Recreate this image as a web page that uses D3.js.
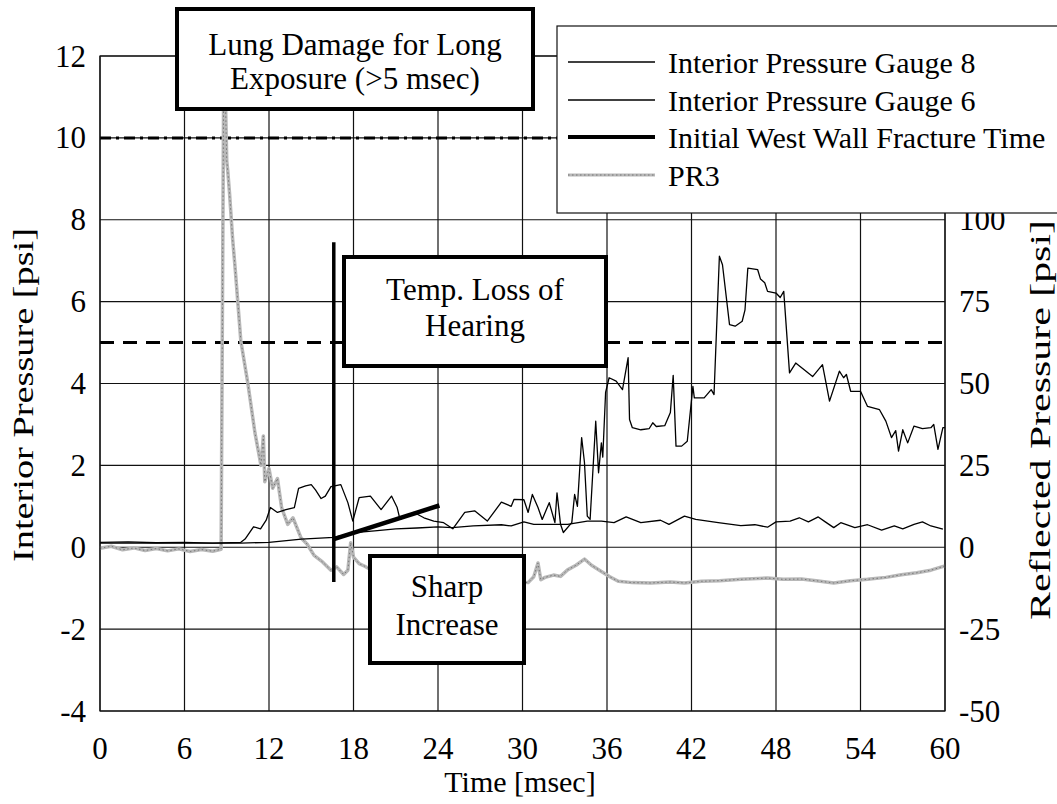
<!DOCTYPE html>
<html>
<head>
<meta charset="utf-8">
<script src="https://cdn.jsdelivr.net/npm/d3@7"></script>
<style>
  html, body { margin: 0; padding: 0; background: #fff; }
  svg { display: block; font-family: "Liberation Serif", "Times New Roman", serif; }
</style>
</head>
<body>
<div id="chart"></div>
<script>
// Time ticks [msec] and pressure ticks
const timeTicks = [0, 6, 12, 18, 24, 30, 36, 42, 48, 54, 60];
const leftTicks = [-4, -2, 0, 2, 4, 6, 8, 10, 12];
const rightTicks = [-50, -25, 0, 25, 50, 75, 100];

// Interior Pressure Gauge 8 [time, psi]
const gauge8 = [
  [0, 0.12], [2, 0.13], [4, 0.11], [6, 0.12], [8, 0.1], [10, 0.12], [10.3, 0.2], [10.9, 0.5], [11.4, 0.45],
  [11.8, 0.66], [12.1, 0.97], [12.6, 0.85], [13.2, 0.92], [13.8, 0.97], [14.1, 1.44], [14.6, 1.5], [15.0, 1.53],
  [15.3, 1.4], [15.7, 1.19], [16.0, 1.25], [16.4, 1.48], [17.1, 1.53], [17.6, 1.09], [17.95, 0.64], [18.4, 1.21],
  [19.2, 1.25], [19.96, 0.92], [20.7, 1.25], [21.1, 0.97], [21.3, 0.68], [22.3, 0.85], [23.0, 0.72], [23.7, 0.64],
  [24.4, 0.6], [25.05, 0.45], [25.9, 0.85], [26.6, 0.89], [27.5, 0.64], [28.5, 1.1], [29.2, 1.0], [29.4, 1.17],
  [30.1, 1.16], [30.4, 0.85], [30.7, 1.29], [31.1, 0.97], [31.4, 0.68], [31.9, 1.09], [32.3, 0.6], [32.45, 1.33],
  [32.7, 0.56], [32.9, 0.36], [33.5, 0.6], [33.7, 1.29], [33.9, 1.0], [34.2, 2.68], [34.4, 2.07], [34.6, 0.76],
  [34.8, 0.68], [35.2, 3.08], [35.4, 1.82], [35.6, 2.55], [35.7, 2.2], [35.9, 3.78], [36.15, 4.14], [36.65, 4.06],
  [37.1, 3.85], [37.5, 4.63], [37.6, 3.12], [37.8, 2.92], [38.4, 2.87], [39.0, 2.9], [39.25, 3.04], [39.5, 2.95],
  [40.1, 2.97], [40.5, 3.29], [40.7, 4.2], [40.9, 2.47], [41.3, 2.47], [41.7, 2.59], [42.1, 3.93], [42.2, 3.65],
  [42.9, 3.65], [43.4, 3.85], [43.6, 3.73], [43.98, 7.11], [44.2, 6.9], [44.7, 5.44], [45.1, 5.4], [45.6, 5.52],
  [45.8, 5.8], [46.0, 6.82], [46.7, 6.78], [46.9, 6.55], [47.2, 6.46], [47.4, 6.25], [48.0, 6.21], [48.3, 6.1],
  [48.55, 6.25], [48.96, 4.26], [49.4, 4.5], [50.6, 4.17], [51.3, 4.46], [51.8, 3.57], [52.5, 4.3], [52.8, 4.14],
  [53.0, 4.22], [53.3, 3.81], [54.0, 3.81], [54.5, 3.44], [55.35, 3.36], [55.8, 3.08], [56.2, 2.68], [56.5, 2.85],
  [56.7, 2.35], [57.0, 2.87], [57.35, 2.55], [57.8, 2.96], [58.4, 2.9], [59.0, 2.92], [59.2, 3.0], [59.5, 2.39],
  [59.85, 2.92], [60, 2.92]
];

// Interior Pressure Gauge 6 [time, psi]
const gauge6 = [
  [0, 0.1], [4, 0.1], [8, 0.1], [10, 0.1], [12, 0.12], [14.3, 0.2], [16.6, 0.24], [18.1, 0.36], [19.5, 0.4],
  [21, 0.45], [22.5, 0.47], [24, 0.5], [25, 0.48], [26.5, 0.52], [28.5, 0.55], [29.2, 0.52], [30.1, 0.62],
  [30.8, 0.56], [32, 0.56], [33.2, 0.56], [34.6, 0.64], [35.6, 0.64], [36.5, 0.6], [37.36, 0.74], [38.4, 0.6],
  [39.8, 0.66], [40.4, 0.56], [41.5, 0.76], [42.3, 0.68], [43.9, 0.6], [45.5, 0.53], [46.5, 0.55], [47.4, 0.49],
  [48.0, 0.62], [49.0, 0.64], [49.65, 0.72], [50.3, 0.62], [51.0, 0.74], [51.5, 0.62], [52.1, 0.48], [52.6, 0.6],
  [53.6, 0.48], [54.5, 0.55], [55.5, 0.42], [56.4, 0.52], [57.0, 0.45], [57.8, 0.56], [58.4, 0.62], [59.0, 0.52],
  [59.85, 0.44]
];

// PR3 reflected pressure [time, psi] (right axis)
const pr3 = [
  [0, -0.3], [0.8, 0.3], [1.6, -0.8], [2.4, -0.2], [3.2, -1.0], [4.0, -0.4], [4.8, -1.1], [5.6, -0.5],
  [6.4, -1.3], [7.2, -0.7], [8.0, -1.2], [8.6, -0.6], [8.78, 140], [8.9, 138], [9.0, 118], [9.07, 115],
  [9.2, 108], [9.42, 94], [9.6, 85], [10.0, 63], [10.5, 50], [11.0, 35], [11.43, 25], [11.6, 34], [11.7, 20],
  [12.0, 24], [12.26, 18], [12.6, 21], [12.9, 12], [13.33, 7], [13.7, 9], [14.28, 2.8], [14.7, 1], [15.2, -2.5],
  [15.8, -4.5], [16.4, -7], [16.8, -6], [17.3, -8.3], [17.6, -7], [17.8, 1.4], [18.0, -3], [18.4, -5],
  [18.8, -5.8], [19.3, -7], [20, -8], [22, -9], [25, -9.5], [28, -10], [30.4, -10.8], [30.8, -9], [31.1, -4.8],
  [31.3, -9.9], [31.6, -9.2], [32.2, -8.5], [32.7, -8.9], [33.2, -6.9], [33.8, -5.5], [34.4, -3.6], [34.9, -5.5],
  [35.6, -7.4], [36.2, -9], [36.8, -10.4], [37.8, -10.8], [39.1, -10.9], [40.5, -10.6], [41.5, -10.9],
  [42.7, -10.4], [44, -10.2], [45.5, -9.8], [47.4, -9.4], [48.5, -9.8], [49.8, -9.7], [51, -10.3], [52.1, -10.9],
  [53.3, -10.2], [54.5, -9.8], [55.8, -9.2], [56.9, -8.4], [58, -7.8], [59, -7], [60, -5.7]
];

// Initial west wall fracture time and the "sharp increase" trend [time, psi]
const fractureLine = [[16.6, 7.45], [16.6, -0.85]];
const sharpLine = [[16.6, 0.2], [24.1, 1.02]];

// Threshold levels [psi]
const lungLevel = 10;
const hearingLevel = 5;

const legendItems = ['Interior Pressure Gauge 8', 'Interior Pressure Gauge 6', 'Initial West Wall Fracture Time', 'PR3'];

const W = 1057, H = 804;
const L = 100, R = 945, T = 56, B = 711;

const svg = d3.select('#chart').append('svg').attr('width', W).attr('height', H);

const x = d3.scaleLinear().domain([0, 60]).range([L, R]);
const y = d3.scaleLinear().domain([-4, 12]).range([B, T]);
const y2 = d3.scaleLinear().domain([-50, 150]).range([B, T]);

// Grid
const grid = svg.append('g').attr('stroke', '#111').attr('stroke-width', 1.2);
grid.selectAll('.vx').data(timeTicks).join('line')
  .attr('x1', d => x(d)).attr('x2', d => x(d)).attr('y1', T).attr('y2', B);
grid.selectAll('.hy').data(leftTicks).join('line')
  .attr('x1', L).attr('x2', R).attr('y1', d => y(d)).attr('y2', d => y(d));

// Tick labels
svg.append('g').attr('font-size', 31).attr('text-anchor', 'middle').attr('fill', '#000')
  .selectAll('text').data(timeTicks).join('text')
  .attr('x', d => x(d)).attr('y', 759).text(d => d);
svg.append('g').attr('font-size', 31).attr('text-anchor', 'end').attr('fill', '#000')
  .selectAll('text').data(leftTicks).join('text')
  .attr('x', 86).attr('y', d => y(d) + 10.5).text(d => d);
svg.append('g').attr('font-size', 31).attr('text-anchor', 'start').attr('fill', '#000')
  .selectAll('text').data(rightTicks).join('text')
  .attr('x', 959).attr('y', d => y2(d) + 10.5).text(d => d);

// Axis titles
svg.append('text').attr('x', 520).attr('y', 792).attr('font-size', 30)
  .attr('text-anchor', 'middle').text('Time [msec]');
svg.append('text').attr('transform', 'translate(33,395) rotate(-90)').attr('font-size', 30)
  .attr('text-anchor', 'middle').attr('textLength', 334).attr('lengthAdjust', 'spacingAndGlyphs')
  .text('Interior Pressure [psi]');
svg.append('text').attr('transform', 'translate(1050,420) rotate(-90)').attr('font-size', 30)
  .attr('text-anchor', 'middle').attr('textLength', 400).attr('lengthAdjust', 'spacingAndGlyphs')
  .text('Reflected Pressure [psi]');

// Threshold lines
svg.append('line').attr('x1', L).attr('x2', R).attr('y1', y(lungLevel)).attr('y2', y(lungLevel))
  .attr('stroke', '#000').attr('stroke-width', 3).attr('stroke-dasharray', '11,5,3,5');
svg.append('line').attr('x1', L).attr('x2', R).attr('y1', y(hearingLevel)).attr('y2', y(hearingLevel))
  .attr('stroke', '#000').attr('stroke-width', 3).attr('stroke-dasharray', '14,9');

const line = d3.line().x(d => x(d[0])).y(d => y(d[1]));
const line2 = d3.line().x(d => x(d[0])).y(d => y2(d[1]));

// PR3 (grey textured)
svg.append('path').attr('d', line2(pr3)).attr('fill', 'none')
  .attr('stroke', '#b8b8b8').attr('stroke-width', 3.5).attr('stroke-linejoin', 'round');
svg.append('path').attr('d', line2(pr3)).attr('fill', 'none')
  .attr('stroke', '#777').attr('stroke-width', 1).attr('stroke-dasharray', '1.5,2.5');

// Gauges
[gauge8, gauge6].forEach(s => {
  svg.append('path').attr('d', line(s)).attr('fill', 'none')
    .attr('stroke', '#000').attr('stroke-width', 1.3).attr('stroke-linejoin', 'round');
});

// Fracture time and sharp increase
svg.append('path').attr('d', line(fractureLine)).attr('stroke', '#000').attr('stroke-width', 3.5);
svg.append('path').attr('d', line(sharpLine)).attr('stroke', '#000').attr('stroke-width', 4.5);

// Plot frame
svg.append('rect').attr('x', L).attr('y', T).attr('width', R - L).attr('height', B - T)
  .attr('fill', 'none').attr('stroke', '#111').attr('stroke-width', 1.2);

// Annotation boxes
function noteBox(x0, y0, w, h, lines, baselines) {
  const g = svg.append('g');
  g.append('rect').attr('x', x0).attr('y', y0).attr('width', w).attr('height', h)
    .attr('fill', '#fff').attr('stroke', '#000').attr('stroke-width', 4);
  lines.forEach((t, i) => {
    g.append('text').attr('x', x0 + w / 2).attr('y', baselines[i]).attr('font-size', 31)
      .attr('text-anchor', 'middle').text(t);
  });
}
noteBox(177, 9, 356, 100, ['Lung Damage for Long', 'Exposure (>5 msec)'], [55, 89]);
noteBox(344, 257, 262, 109, ['Temp. Loss of', 'Hearing'], [300, 336]);
noteBox(370, 556, 154, 107, ['Sharp', 'Increase'], [597, 635]);

// Legend
const lg = svg.append('g');
lg.append('rect').attr('x', 557).attr('y', 26).attr('width', 520).attr('height', 187)
  .attr('fill', '#fff').attr('stroke', '#111').attr('stroke-width', 1.2);
const rowY = [62, 100, 137, 175];
legendItems.forEach((name, i) => {
  const yy = rowY[i];
  if (i === 3) {
    lg.append('line').attr('x1', 568).attr('x2', 655).attr('y1', yy).attr('y2', yy)
      .attr('stroke', '#b8b8b8').attr('stroke-width', 3);
    lg.append('line').attr('x1', 568).attr('x2', 655).attr('y1', yy).attr('y2', yy)
      .attr('stroke', '#777').attr('stroke-width', 1).attr('stroke-dasharray', '1.5,2.5');
  } else {
    lg.append('line').attr('x1', 568).attr('x2', 655).attr('y1', yy).attr('y2', yy)
      .attr('stroke', '#000').attr('stroke-width', i === 2 ? 4 : 1.3);
  }
  lg.append('text').attr('x', 668).attr('y', yy + 11).attr('font-size', 30).text(name);
});
</script>
</body>
</html>
